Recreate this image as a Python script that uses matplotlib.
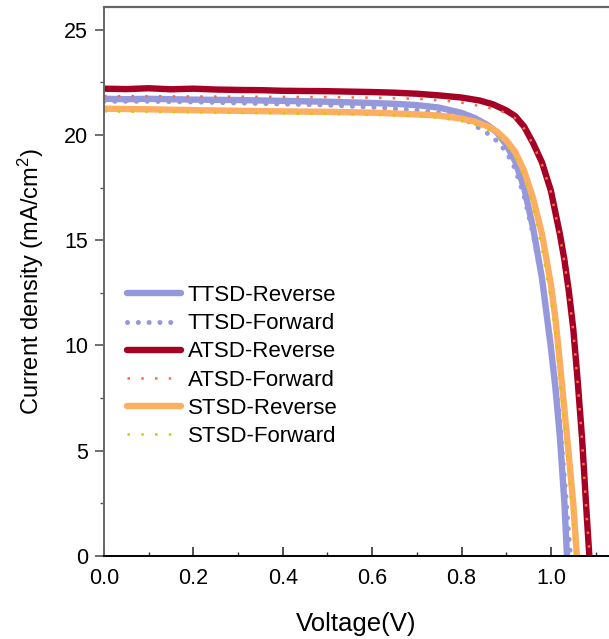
import matplotlib
matplotlib.use("Agg")
from matplotlib import pyplot as plt
from matplotlib.ticker import MultipleLocator

plt.rcParams['font.family'] = ['Liberation Sans', 'DejaVu Sans']
plt.rcParams['mathtext.fontset'] = 'custom'
plt.rcParams['mathtext.rm'] = 'Liberation Sans'
plt.rcParams['mathtext.default'] = 'regular'

# J-V data (V in volts, J in mA/cm2)
ttsd_rev_v = [0.00, 0.05, 0.10, 0.15, 0.20, 0.30, 0.40, 0.50, 0.60, 0.65, 0.70, 0.75, 0.80, 0.83,
              0.86, 0.88, 0.90, 0.92, 0.94, 0.96, 0.98, 1.00, 1.01, 1.02, 1.03, 1.036, 1.04]
ttsd_rev_j = [21.72, 21.70, 21.72, 21.70, 21.68, 21.66, 21.62, 21.58, 21.52, 21.48, 21.42, 21.30, 21.05, 20.80,
              20.45, 20.10, 19.55, 18.75, 17.50, 15.60, 13.20, 9.90, 8.00, 5.70, 2.60, 0.00, -1.5]

ttsd_fwd_v = [0.00, 0.10, 0.20, 0.30, 0.40, 0.50, 0.60, 0.70, 0.75, 0.80, 0.83, 0.86, 0.88, 0.90,
              0.92, 0.94, 0.96, 0.98, 1.00, 1.01, 1.02, 1.03, 1.04, 1.044, 1.05]
ttsd_fwd_j = [21.60, 21.60, 21.57, 21.52, 21.47, 21.42, 21.32, 21.18, 21.05, 20.85, 20.45, 20.05, 19.70, 19.20,
              18.40, 17.10, 15.30, 13.10, 10.20, 8.40, 6.30, 3.80, 1.00, 0.00, -1.5]

atsd_rev_v = [0.00, 0.05, 0.10, 0.15, 0.20, 0.25, 0.30, 0.35, 0.40, 0.45, 0.50, 0.55, 0.60, 0.65, 0.70,
              0.75, 0.80, 0.84, 0.87, 0.90, 0.92, 0.94, 0.96, 0.98, 1.00, 1.02, 1.03, 1.04, 1.05, 1.06,
              1.07, 1.08, 1.086, 1.09]
atsd_rev_j = [22.20, 22.18, 22.22, 22.17, 22.20, 22.16, 22.14, 22.13, 22.10, 22.09, 22.08, 22.06, 22.04, 22.01, 21.96,
              21.88, 21.78, 21.64, 21.46, 21.17, 20.90, 20.40, 19.62, 18.70, 17.35, 15.30, 14.10, 12.60, 10.80, 8.30,
              5.50, 2.00, 0.00, -1.5]

atsd_fwd_v = [0.00, 0.10, 0.20, 0.30, 0.40, 0.50, 0.60, 0.70, 0.79, 0.86, 0.90, 0.92, 0.94, 0.96, 0.98,
              1.00, 1.02, 1.03, 1.04, 1.05, 1.06, 1.07, 1.08, 1.087, 1.09]
atsd_fwd_j = [21.85, 21.84, 21.83, 21.82, 21.81, 21.80, 21.77, 21.72, 21.58, 21.30, 21.05, 20.80, 20.30, 19.55, 18.60,
              17.30, 15.20, 14.00, 12.50, 10.70, 8.20, 5.40, 1.90, 0.00, -1.5]

stsd_rev_v = [0.00, 0.10, 0.20, 0.30, 0.40, 0.50, 0.60, 0.70, 0.75, 0.80, 0.83, 0.86, 0.88, 0.90,
              0.92, 0.94, 0.96, 0.98, 1.00, 1.01, 1.02, 1.03, 1.04, 1.05, 1.058, 1.062]
stsd_rev_j = [21.25, 21.22, 21.18, 21.15, 21.12, 21.10, 21.06, 20.98, 20.92, 20.78, 20.63, 20.40, 20.15, 19.75,
              19.20, 18.30, 17.00, 15.30, 12.90, 11.30, 9.20, 7.00, 4.80, 2.50, 0.00, -1.5]

stsd_fwd_v = [0.00, 0.10, 0.20, 0.30, 0.40, 0.50, 0.60, 0.70, 0.75, 0.80, 0.83, 0.86, 0.88, 0.90,
              0.92, 0.94, 0.96, 0.98, 1.00, 1.01, 1.02, 1.03, 1.04, 1.05, 1.055, 1.06]
stsd_fwd_j = [21.12, 21.10, 21.08, 21.05, 21.03, 21.00, 20.96, 20.90, 20.82, 20.66, 20.50, 20.25, 19.98, 19.55,
              18.95, 18.00, 16.55, 14.60, 12.20, 10.60, 8.60, 6.40, 4.10, 1.60, 0.00, -1.5]

blue = '#9599dc'
red = '#a50026'
red_dot = '#f46d43'
orange = '#fdae61'
green = '#cccc00'

fig = plt.figure(figsize=(6.09, 6.39), dpi=100)
ax = fig.add_axes([104 / 609, 83 / 639, 505 / 609, 549 / 639])

ax.plot(ttsd_rev_v, ttsd_rev_j, color=blue, lw=4.6, solid_capstyle='round', label='TTSD-Reverse')
ax.plot(ttsd_fwd_v, ttsd_fwd_j, color=blue, lw=3.6, dash_capstyle='round',
        linestyle=(0, (0.01, 2.15)), label='TTSD-Forward')
ax.plot(atsd_rev_v, atsd_rev_j, color=red, lw=4.6, solid_capstyle='round', label='ATSD-Reverse')
ax.plot(atsd_fwd_v, atsd_fwd_j, color=red_dot, lw=1.8, linestyle=(0, (1, 4.5)), label='ATSD-Forward')
ax.plot(stsd_rev_v, stsd_rev_j, color=orange, lw=4.6, solid_capstyle='round', label='STSD-Reverse')
ax.plot(stsd_fwd_v, stsd_fwd_j, color=green, lw=1.8, linestyle=(0, (1, 4.5)), label='STSD-Forward')

ax.set_xlim(0, 1.13)
ax.set_ylim(0, 26.08)
ax.xaxis.set_major_locator(MultipleLocator(0.2))
ax.xaxis.set_minor_locator(MultipleLocator(0.1))
ax.yaxis.set_major_locator(MultipleLocator(5))
ax.yaxis.set_minor_locator(MultipleLocator(2.5))
ax.xaxis.set_major_formatter(matplotlib.ticker.FormatStrFormatter('%.1f'))

ax.tick_params(axis='x', which='major', direction='in', length=6.5, width=1.2, color='#333333',
               labelsize=15.5, pad=9)
ax.tick_params(axis='x', which='minor', direction='in', length=3, width=1.0, color='#333333')
ax.tick_params(axis='y', which='major', direction='out', length=6.5, width=1.2, color='#555555',
               labelsize=15.5, pad=5)
ax.tick_params(axis='y', which='minor', direction='out', length=3, width=1.0, color='#555555')

ax.spines['right'].set_visible(False)
ax.spines['top'].set_color('#666666')
ax.spines['top'].set_linewidth(1.6)
ax.spines['left'].set_color('#666666')
ax.spines['left'].set_linewidth(1.4)
ax.spines['bottom'].set_color('black')
ax.spines['bottom'].set_linewidth(1.4)

ax.set_xlabel('Voltage(V)', fontsize=18.5, labelpad=16)
ax.set_ylabel('Current density (mA/cm$^2$)', fontsize=17, labelpad=13)

ax.legend(loc='center left', bbox_to_anchor=(0.045, 0.346), frameon=False, fontsize=16,
          handlelength=2.45, handletextpad=0.3, labelspacing=0.32, borderpad=0, borderaxespad=0)

plt.savefig('out.png', dpi=100)
